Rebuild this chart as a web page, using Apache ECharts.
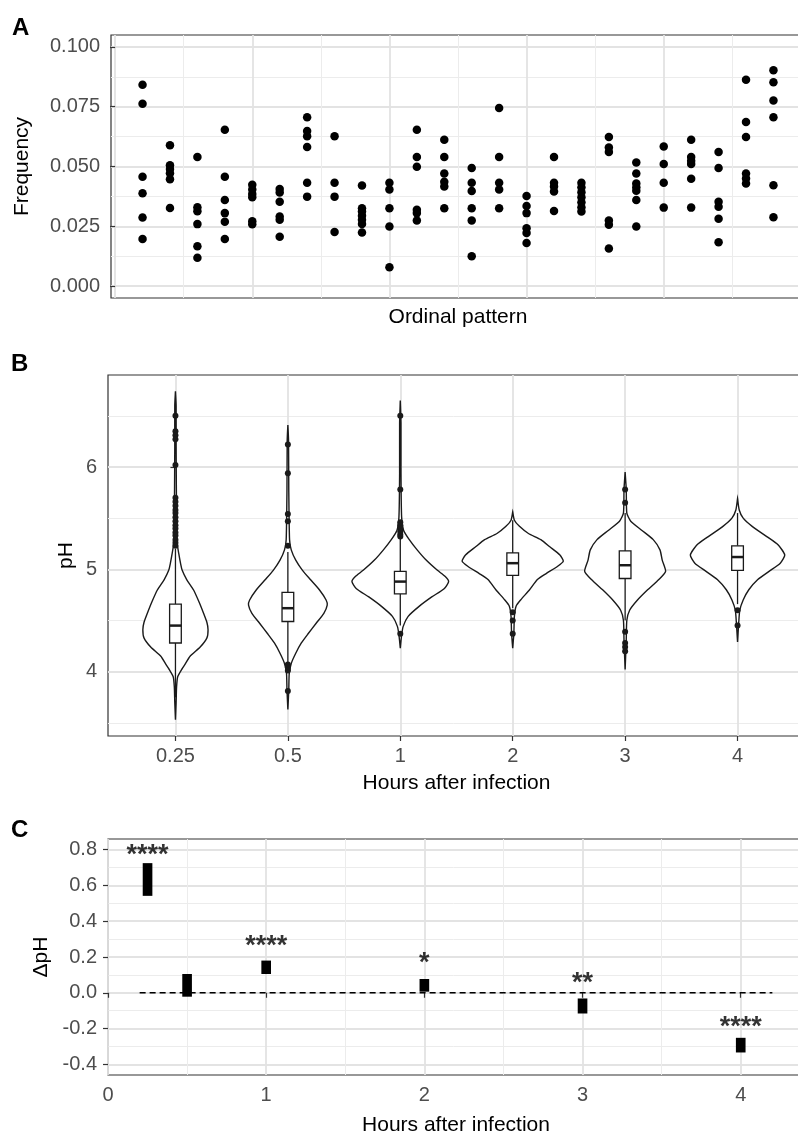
<!DOCTYPE html>
<html><head><meta charset="utf-8">
<script src="https://cdn.jsdelivr.net/npm/echarts@6/dist/echarts.min.js"></script>
<style>html,body{margin:0;padding:0;background:#fff}#c{width:798px;height:1133px}</style>
</head><body><div id="c"></div>
<script>
// ---------- Panel A: frequency of each ordinal pattern ----------
const patternIds = [1,2,3,4,5,6,7,8,9,10,11,12,13,14,15,16,17,18,19,20,21,22,23,24];
const freqByPattern = [
  [0.0842,0.0762,0.0457,0.0388,0.0287,0.0197],
  [0.0589,0.0505,0.0490,0.0472,0.0447,0.0326],
  [0.0540,0.0330,0.0313,0.0259,0.0166,0.0118],
  [0.0654,0.0457,0.0360,0.0305,0.0269,0.0197],
  [0.0424,0.0404,0.0385,0.0371,0.0271,0.0258],
  [0.0406,0.0391,0.0353,0.0291,0.0277,0.0206],
  [0.0706,0.0648,0.0627,0.0582,0.0432,0.0374],
  [0.0627,0.0432,0.0374,0.0226],
  [0.0421,0.0325,0.0312,0.0294,0.0277,0.0260,0.0224],
  [0.0432,0.0404,0.0325,0.0249,0.0079],
  [0.0654,0.0540,0.0499,0.0319,0.0305,0.0274],
  [0.0612,0.0540,0.0471,0.0436,0.0416,0.0325],
  [0.0494,0.0432,0.0398,0.0325,0.0274,0.0125],
  [0.0745,0.0540,0.0432,0.0404,0.0325],
  [0.0377,0.0335,0.0305,0.0242,0.0222,0.0180],
  [0.0540,0.0432,0.0416,0.0395,0.0314],
  [0.0432,0.0413,0.0392,0.0371,0.0350,0.0330,0.0312],
  [0.0623,0.0579,0.0561,0.0274,0.0256,0.0157],
  [0.0517,0.0471,0.0429,0.0413,0.0399,0.0360,0.0249],
  [0.0584,0.0510,0.0432,0.0328],
  [0.0612,0.0540,0.0524,0.0510,0.0449,0.0328],
  [0.0561,0.0494,0.0353,0.0332,0.0281,0.0183],
  [0.0863,0.0686,0.0623,0.0471,0.0450,0.0429],
  [0.0903,0.0852,0.0776,0.0706,0.0422,0.0288]
];
const freqTicks = [0, 0.025, 0.05, 0.075, 0.1];
const freqMinor = [0.0125, 0.0375, 0.0625, 0.0875];
const patternMajor = [0, 5, 10, 15, 20, 25];
const patternMinor = [2.5, 7.5, 12.5, 17.5, 22.5];

// ---------- Panel B: pH violins ----------
const hourLabels = ['0.25', '0.5', '1', '2', '3', '4'];
// violin outlines: [pH, half-width (fraction of category step)]
const violin025 = [[6.74,0],[6.6,0.006],[6.2,0.006],[5.8,0.008],[5.4,0.011],[5.25,0.016],[5.15,0.03],[5.06,0.045],[4.99,0.06],[4.90,0.10],[4.80,0.16],[4.68,0.21],[4.57,0.25],[4.48,0.28],[4.41,0.29],[4.33,0.28],[4.24,0.22],[4.15,0.13],[4.08,0.09],[4.03,0.06],[3.95,0.02],[3.85,0.01],[3.7,0.006],[3.53,0]];
const violin05 = [[6.41,0],[6.26,0.006],[5.78,0.008],[5.29,0.015],[5.19,0.03],[5.09,0.07],[4.99,0.13],[4.90,0.20],[4.80,0.28],[4.70,0.34],[4.65,0.35],[4.57,0.32],[4.47,0.25],[4.37,0.18],[4.28,0.12],[4.18,0.07],[4.08,0.03],[3.98,0.012],[3.82,0.008],[3.63,0]];
const violin1 = [[6.65,0],[6.43,0.006],[5.94,0.006],[5.51,0.012],[5.38,0.03],[5.29,0.08],[5.19,0.15],[5.09,0.23],[4.99,0.33],[4.93,0.40],[4.88,0.43],[4.81,0.39],[4.73,0.28],[4.64,0.17],[4.54,0.07],[4.44,0.025],[4.34,0.01],[4.23,0]];
const violin2 = [[5.56,0],[5.48,0.015],[5.42,0.06],[5.35,0.14],[5.29,0.25],[5.22,0.33],[5.14,0.42],[5.08,0.45],[5.03,0.40],[4.96,0.30],[4.90,0.22],[4.80,0.15],[4.70,0.07],[4.64,0.03],[4.54,0.015],[4.37,0.01],[4.23,0]];
const violin3 = [[5.95,0],[5.78,0.01],[5.55,0.015],[5.47,0.05],[5.38,0.15],[5.29,0.25],[5.19,0.31],[5.09,0.33],[4.98,0.36],[4.90,0.30],[4.80,0.20],[4.70,0.11],[4.60,0.04],[4.50,0.015],[4.31,0.01],[4.02,0]];
const violin4 = [[5.69,0],[5.58,0.015],[5.50,0.05],[5.42,0.13],[5.32,0.26],[5.24,0.36],[5.14,0.42],[5.06,0.38],[4.98,0.28],[4.90,0.18],[4.80,0.10],[4.70,0.05],[4.60,0.02],[4.47,0.01],[4.29,0]];
const violins = [violin025, violin05, violin1, violin2, violin3, violin4];
const whiskerLow  = [3.75, 4.09, 4.45, 4.62, 4.50, 4.66];
const boxQ1       = [4.28, 4.49, 4.76, 4.94, 4.91, 4.99];
const boxMedian   = [4.45, 4.62, 4.88, 5.06, 5.04, 5.12];
const boxQ3       = [4.66, 4.775, 4.98, 5.16, 5.18, 5.23];
const whiskerHigh = [5.20, 5.17, 5.30, 5.48, 5.55, 5.55];
const outliers = [
  [6.50,6.35,6.31,6.27,6.02,5.70,5.66,5.62,5.58,5.55,5.51,5.47,5.43,5.40,5.36,5.33,5.29,5.26,5.23],
  [6.22,5.94,5.54,5.47,5.23,4.07,4.04,4.01,3.81],
  [6.50,5.78,5.46,5.43,5.40,5.37,5.34,5.32,4.37],
  [4.58,4.50,4.37],
  [5.78,5.65,4.39,4.28,4.24,4.20],
  [4.60,4.45]
];
const phTicks = [4, 5, 6];
const phMinor = [3.5, 4.5, 5.5, 6.5];

// ---------- Panel C: delta pH ----------
const deltaHours = [0.25, 0.5, 1, 2, 3, 4];
const deltaLow  = [0.542, -0.022, 0.105, 0.006, -0.116, -0.334];
const deltaHigh = [0.725, 0.105, 0.180, 0.077, -0.032, -0.252];
const starText = ['****', '', '****', '*', '**', '****'];
const starY    = [0.80, null, 0.29, 0.195, 0.083, -0.159];
const refLineX = [0.2, 4.2];
const deltaTicks = [-0.4, -0.2, 0, 0.2, 0.4, 0.6, 0.8];
const deltaMinor = [-0.3, -0.1, 0.1, 0.3, 0.5, 0.7];
const hourTicks = [0, 1, 2, 3, 4];
const hourMinor = [0.5, 1.5, 2.5, 3.5];

// ---------- styling ----------
const FONT = 'Liberation Sans, Arial, Helvetica, sans-serif';
const MAJOR = { color: '#e3e3e3', width: 1.8 };
const MINOR = { color: '#ececec', width: 1.0 };
const labelStyle = { fontSize: 20, color: '#4d4d4d', fontFamily: FONT };
const nameStyle = { fontSize: 21, color: '#000', fontFamily: FONT };
const tickStyle = { show: true, length: 5, lineStyle: { color: '#333', width: 1.2 } };

function majorAxis(grid, min, max, ticks, extra) {
  return Object.assign({
    type: 'value', gridIndex: grid, min: min, max: max,
    axisLine: { show: false },
    axisTick: Object.assign({}, tickStyle, { customValues: ticks }),
    axisLabel: Object.assign({ show: true, margin: 11, customValues: ticks }, labelStyle),
    splitLine: { show: true, lineStyle: MAJOR },
    nameTextStyle: nameStyle, nameLocation: 'middle', nameMoveOverlap: false
  }, extra || {});
}
function minorAxis(grid, min, max, ticks, pos) {
  return {
    type: 'value', gridIndex: grid, min: min, max: max, position: pos,
    axisLine: { show: false },
    axisTick: { show: false, customValues: ticks },
    axisLabel: { show: false, customValues: ticks },
    splitLine: { show: true, lineStyle: MINOR }
  };
}

const gridBase = { show: true, borderColor: '#333', borderWidth: 1.2, backgroundColor: 'rgba(0,0,0,0)', containLabel: false, outerBoundsMode: 'none' };

const xAxes = [
  majorAxis(0, -0.15, 25.15, patternMajor, { name: 'Ordinal pattern', nameGap: 9, axisTick: { show: false, customValues: patternMajor }, axisLabel: { show: false, customValues: patternMajor } }),
  minorAxis(0, -0.15, 25.15, patternMinor, 'top'),
  majorAxis(1, -0.6, 5.6, [0,1,2,3,4,5], { name: 'Hours after infection', nameGap: 37,
    axisLabel: Object.assign({ show: true, margin: 10, customValues: [0,1,2,3,4,5], formatter: v => hourLabels[Math.round(v)] }, labelStyle) }),
  majorAxis(2, 0, 4.4, hourTicks, { name: 'Hours after infection', nameGap: 40,
    axisLabel: Object.assign({ show: true, margin: 10, customValues: hourTicks, formatter: v => String(v) }, labelStyle) }),
  minorAxis(2, 0, 4.4, hourMinor, 'top')
];
const yAxes = [
  majorAxis(0, -0.005, 0.105, freqTicks, { name: 'Frequency', nameGap: 78,
    axisLabel: Object.assign({ show: true, margin: 11, customValues: freqTicks, formatter: v => v.toFixed(3) }, labelStyle) }),
  minorAxis(0, -0.005, 0.105, freqMinor, 'right'),
  majorAxis(1, 3.371, 6.899, phTicks, { name: 'pH', nameGap: 31,
    axisLabel: Object.assign({ show: true, margin: 11, customValues: phTicks, formatter: v => String(v) }, labelStyle) }),
  minorAxis(1, 3.371, 6.899, phMinor, 'right'),
  majorAxis(2, -0.46, 0.86, deltaTicks, { name: 'ΔpH', nameGap: 56,
    axisLabel: Object.assign({ show: true, margin: 11, customValues: deltaTicks, formatter: v => v.toFixed(1) }, labelStyle) }),
  minorAxis(2, -0.46, 0.86, deltaMinor, 'right')
];

// series data
const scatterA = [];
freqByPattern.forEach((vals, i) => vals.forEach(v => scatterA.push([patternIds[i], v])));
const outlierData = [];
outliers.forEach((vals, g) => vals.forEach(v => outlierData.push([g, v])));
const boxData = hourLabels.map((_, g) => [g, whiskerLow[g], boxQ1[g], boxMedian[g], boxQ3[g], whiskerHigh[g]]);
const barData = deltaHours.map((h, i) => [h, deltaLow[i], deltaHigh[i]]);
const starData = [];
deltaHours.forEach((h, i) => { if (starText[i]) starData.push({ value: [h, starY[i]], text: starText[i] }); });

const BOX_HW = 0.052;
const BAR_HW = 0.0305;

const option = {
  animation: false,
  backgroundColor: '#fff',
  grid: [
    Object.assign({ left: 111, top: 35, width: 694, height: 263 }, gridBase),
    Object.assign({ left: 108, top: 375, width: 697, height: 361 }, gridBase),
    Object.assign({ left: 108, top: 839, width: 696, height: 236 }, gridBase)
  ],
  xAxis: xAxes,
  yAxis: yAxes,
  graphic: [
    { type: 'text', left: 12, top: 16, style: { text: 'A', font: 'bold 24px ' + FONT, fill: '#000' } },
    { type: 'text', left: 11, top: 352, style: { text: 'B', font: 'bold 24px ' + FONT, fill: '#000' } },
    { type: 'text', left: 11, top: 818, style: { text: 'C', font: 'bold 24px ' + FONT, fill: '#000' } }
  ],
  series: [
    { type: 'scatter', xAxisIndex: 0, yAxisIndex: 0, data: scatterA, symbolSize: 8.5,
      itemStyle: { color: '#000', opacity: 1 }, z: 5 },
    { type: 'custom', xAxisIndex: 2, yAxisIndex: 2, data: violins.map((_, g) => [g]), z: 3,
      renderItem: function (params, api) {
        const g = api.value(0);
        const prof = violins[g];
        const right = prof.map(p => api.coord([g + p[1], p[0]]));
        const left = prof.slice().reverse().map(p => api.coord([g - p[1], p[0]]));
        return { type: 'polygon', shape: { points: right.concat(left), smooth: 0.2 },
          style: { fill: '#fff', stroke: '#1a1a1a', lineWidth: 1.4 } };
      } },
    { type: 'custom', xAxisIndex: 2, yAxisIndex: 2, data: boxData, z: 4,
      renderItem: function (params, api) {
        const g = api.value(0), lo = api.value(1), q1 = api.value(2), md = api.value(3), q3 = api.value(4), hi = api.value(5);
        const pHi = api.coord([g, hi]), pQ3 = api.coord([g, q3]), pQ1 = api.coord([g, q1]), pLo = api.coord([g, lo]);
        const tl = api.coord([g - BOX_HW, q3]), br = api.coord([g + BOX_HW, q1]);
        const ml = api.coord([g - BOX_HW, md]), mr = api.coord([g + BOX_HW, md]);
        const st = { stroke: '#1a1a1a', lineWidth: 1.3, fill: null };
        return { type: 'group', children: [
          { type: 'line', shape: { x1: pHi[0], y1: pHi[1], x2: pQ3[0], y2: pQ3[1] }, style: st },
          { type: 'line', shape: { x1: pQ1[0], y1: pQ1[1], x2: pLo[0], y2: pLo[1] }, style: st },
          { type: 'rect', shape: { x: tl[0], y: tl[1], width: br[0] - tl[0], height: br[1] - tl[1] }, style: { fill: '#fff', stroke: '#1a1a1a', lineWidth: 1.3 } },
          { type: 'line', shape: { x1: ml[0], y1: ml[1], x2: mr[0], y2: mr[1] }, style: { stroke: '#1a1a1a', lineWidth: 2.5 } }
        ] };
      } },
    { type: 'scatter', xAxisIndex: 2, yAxisIndex: 2, data: outlierData, symbolSize: 6,
      itemStyle: { color: '#1a1a1a', opacity: 1 }, z: 6 },
    { type: 'line', xAxisIndex: 3, yAxisIndex: 4, data: refLineX.map(x => [x, 0]), symbol: 'none',
      lineStyle: { color: '#000', width: 1.3, type: [6, 4] }, z: 3 },
    { type: 'custom', xAxisIndex: 3, yAxisIndex: 4, data: barData, z: 4,
      renderItem: function (params, api) {
        const h = api.value(0), lo = api.value(1), hi = api.value(2);
        const tl = api.coord([h - BAR_HW, hi]), br = api.coord([h + BAR_HW, lo]);
        return { type: 'rect', shape: { x: tl[0], y: tl[1], width: br[0] - tl[0], height: br[1] - tl[1] }, style: { fill: '#000' } };
      } },
    { type: 'scatter', xAxisIndex: 3, yAxisIndex: 4, data: starData, symbolSize: 1,
      itemStyle: { color: 'rgba(0,0,0,0)' }, z: 5,
      label: { show: true, position: 'inside', offset: [0, 6], formatter: p => p.data.text,
        fontSize: 27, fontWeight: 'bold', color: '#000', fontFamily: FONT } }
  ]
};
const chart = echarts.init(document.getElementById('c'), null, { renderer: 'canvas' });
chart.setOption(option);
</script></body></html>
